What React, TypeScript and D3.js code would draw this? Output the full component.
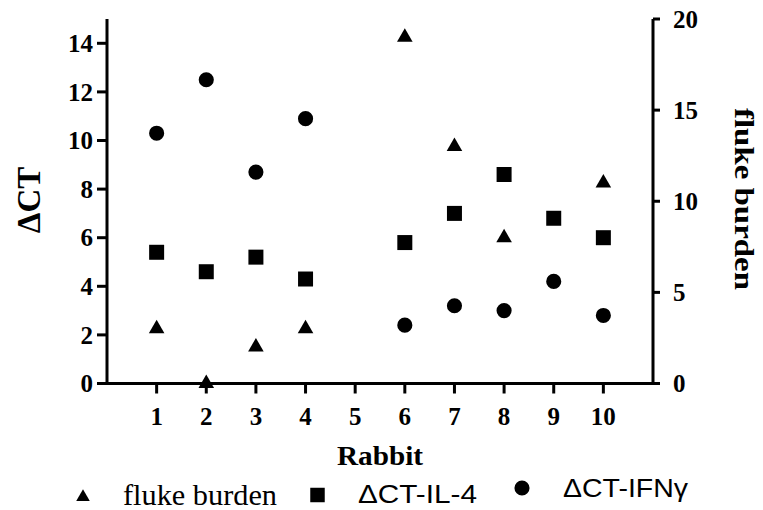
import React from "react";
import * as d3 from "d3";

// rabbits 1..10 (no samples for rabbit 5, no fluke count for rabbit 9)
const rabbits = [1, 2, 3, 4, 6, 7, 8, 9, 10];
const il4 = [5.4, 4.6, 5.2, 4.3, 5.8, 7.0, 8.6, 6.8, 6.0];
const ifng = [10.3, 12.5, 8.7, 10.9, 2.4, 3.2, 3.0, 4.2, 2.8];
const fluke: (number | null)[] = [3, 0, 2, 3, 19, 13, 8, null, 11];

const xTicks = [1, 2, 3, 4, 5, 6, 7, 8, 9, 10];
const leftTicks = [0, 2, 4, 6, 8, 10, 12, 14];
const rightTicks = [0, 5, 10, 15, 20];

const W = 763;
const H = 510;
const serif = "'Liberation Serif', 'Times New Roman', serif";
const sans = "'Liberation Sans', Arial, sans-serif";

const App = () => {
  const x = d3.scaleLinear().domain([0, 11]).range([107, 653]);
  const yL = d3.scaleLinear().domain([0, 15]).range([383.5, 19]);
  const yR = d3.scaleLinear().domain([0, 20]).range([383.5, 19]);

  const tri = d3.symbol().type(d3.symbolTriangle).size(105)();
  const sq = d3.symbol().type(d3.symbolSquare).size(225)();
  const circ = d3.symbol().type(d3.symbolCircle).size(180)();

  return (
    <svg width={W} height={H} style={{ position: "absolute", left: 0, top: 0, background: "#fff" }}>
      <g stroke="#000" strokeWidth={3} fill="none">
        {/* axes */}
        <line x1={x(0)} x2={x(0)} y1={yL(15)} y2={yL(0)} />
        <line x1={x(11)} x2={x(11)} y1={yR(20)} y2={yR(0)} />
        <line x1={x(0) - 10} x2={x(11) + 7} y1={yL(0)} y2={yL(0)} />
        {leftTicks.map((t) => (
          <line key={"l" + t} x1={x(0) - 10} x2={x(0)} y1={yL(t)} y2={yL(t)} />
        ))}
        {rightTicks.map((t) => (
          <line key={"r" + t} x1={x(11)} x2={x(11) + 7} y1={yR(t)} y2={yR(t)} />
        ))}
        {xTicks.map((t) => (
          <line key={"x" + t} x1={x(t)} x2={x(t)} y1={yL(0)} y2={yL(0) + 10} />
        ))}
      </g>

      <g fontFamily={serif} fontWeight="bold" fontSize={25} fill="#000">
        {leftTicks.map((t) => (
          <text key={"lt" + t} x={x(0) - 14} y={yL(t)} dy="0.35em" textAnchor="end">
            {t}
          </text>
        ))}
        {rightTicks.map((t) => (
          <text key={"rt" + t} x={x(11) + 20} y={yR(t)} dy="0.35em" textAnchor="start">
            {t}
          </text>
        ))}
        {xTicks.map((t) => (
          <text key={"xt" + t} x={x(t)} y={425} textAnchor="middle">
            {t}
          </text>
        ))}
        <text x={337} y={465} fontSize={28} textLength={86} lengthAdjust="spacingAndGlyphs">
          Rabbit
        </text>
        <text transform="translate(40,200) rotate(-90)" textAnchor="middle" fontSize={33}>
          ΔCT
        </text>
        <text
          transform="translate(735,108) rotate(90)"
          fontSize={28}
          textLength={182}
          lengthAdjust="spacingAndGlyphs"
        >
          fluke burden
        </text>
      </g>

      {/* data */}
      <g fill="#000">
        {rabbits.map((r, i) => (
          <path key={"c" + r} d={circ} transform={`translate(${x(r)},${yL(ifng[i])})`} />
        ))}
        {rabbits.map((r, i) => (
          <path key={"s" + r} d={sq} transform={`translate(${x(r)},${yL(il4[i])})`} />
        ))}
        {rabbits.map((r, i) =>
          fluke[i] === null ? null : (
            <path key={"t" + r} d={tri} transform={`translate(${x(r)},${yR(fluke[i] as number)})`} />
          )
        )}
      </g>

      {/* legend */}
      <g fill="#000">
        <path d={d3.symbol().type(d3.symbolTriangle).size(80)()} transform="translate(83,497)" />
        <text x={123} y={505} fontFamily={serif} fontSize={29} textLength={154} lengthAdjust="spacingAndGlyphs">
          fluke burden
        </text>
        <path d={d3.symbol().type(d3.symbolSquare).size(210)()} transform="translate(317.5,495)" />
        <text x={358} y={503} fontFamily={sans} fontSize={25} textLength={119} lengthAdjust="spacingAndGlyphs">
          ΔCT-IL-4
        </text>
        <path d={d3.symbol().type(d3.symbolCircle).size(180)()} transform="translate(522,488)" />
        <text x={563} y={497} fontFamily={sans} fontSize={25} textLength={125} lengthAdjust="spacingAndGlyphs">
          ΔCT-IFNγ
        </text>
      </g>
    </svg>
  );
};

export default App;
